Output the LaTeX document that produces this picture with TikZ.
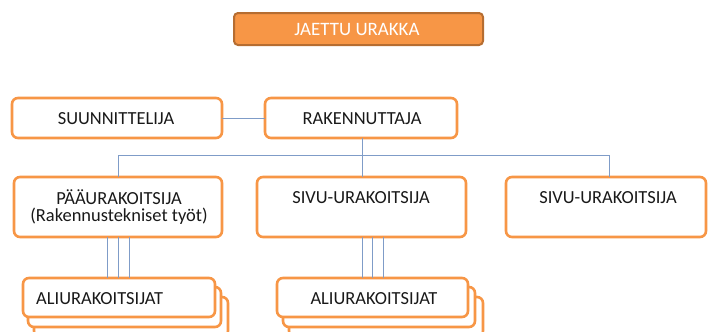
\documentclass[tikz,border=0pt]{standalone}
\usepackage{fontspec}
\setmainfont{Carlito}
\definecolor{boxline}{HTML}{F79646}
\definecolor{titlefill}{HTML}{F79646}
\definecolor{titleline}{HTML}{B66D31}
\definecolor{link}{HTML}{7F9CC8}
\begin{document}
\begin{tikzpicture}[x=1bp,y=-1bp,
  orgbox/.style={draw=boxline,line width=2.6bp,rounded corners=6bp,fill=white},
  titlebox/.style={draw=titleline,line width=2bp,rounded corners=4bp,fill=titlefill},
  lbl/.style={font=\fontsize{18.5}{17}\selectfont,text=black!90,align=center,anchor=base,inner sep=0pt},
  conn/.style={draw=link,line width=0.9bp}]
\useasboundingbox (0,0) rectangle (709,331);

% title
\draw[titlebox] (234,13) rectangle (483,45);
\node[lbl,text=white,font=\fontsize{19}{20}\selectfont] (title) at (357,35.5) {JAETTU URAKKA};

% top row
\draw[orgbox] (12,98) rectangle (222,138);
\node[lbl] (suun) at (116,124.5) {SUUNNITTELIJA};
\draw[orgbox] (265,98) rectangle (457,138);
\node[lbl] (rak) at (362,124.5) {RAKENNUTTAJA};
\coordinate (suunE) at (222,118);
\coordinate (rakW) at (265,118);
\draw[conn] (suunE) -- (rakW);

% contractor row
\draw[orgbox] (14,177) rectangle (222,237);
\node[lbl] (paa) at (119,221) {PÄÄURAKOITSIJA\\(Rakennustekniset työt)};
\draw[orgbox] (257,177) rectangle (466,237);
\node[lbl] (sivu1) at (361,203.5) {SIVU-URAKOITSIJA};
\draw[orgbox] (506,177) rectangle (706,237);
\node[lbl] (sivu2) at (608,203.5) {SIVU-URAKOITSIJA};

% bus from the client down to the contractors
\coordinate (rakS) at (362,138);
\coordinate (bus) at (362,155);
\coordinate (busL) at (118,155);
\coordinate (busR) at (609,155);
\coordinate (paaN) at (118,177);
\coordinate (sivu1N) at (362,177);
\coordinate (sivu2N) at (609,177);
\draw[conn] (rakS) -- (bus);
\draw[conn] (busL) -- (busR);
\draw[conn] (busL) -- (paaN);
\draw[conn] (bus) -- (sivu1N);
\draw[conn] (busR) -- (sivu2N);

% subcontractor stacks
\draw[orgbox] (34,297) rectangle (228,337);
\draw[orgbox] (28,287) rectangle (221,327);
\draw[orgbox] (23,278) rectangle (215,317);
\node[lbl,anchor=base west] (ali1) at (36,304) {ALIURAKOITSIJAT};

\draw[orgbox] (289,297) rectangle (483,337);
\draw[orgbox] (283,287) rectangle (475,327);
\draw[orgbox] (277,278) rectangle (468,317);
\node[lbl] (ali2) at (374,304) {ALIURAKOITSIJAT};

% triple links to the subcontractors
\foreach \x in {107,118,129}{
  \coordinate (a) at (\x,237);
  \coordinate (b) at (\x,278);
  \draw[conn] (a) -- (b);
}
\foreach \x in {362,372,383}{
  \coordinate (a) at (\x,237);
  \coordinate (b) at (\x,278);
  \draw[conn] (a) -- (b);
}
\end{tikzpicture}
\end{document}
